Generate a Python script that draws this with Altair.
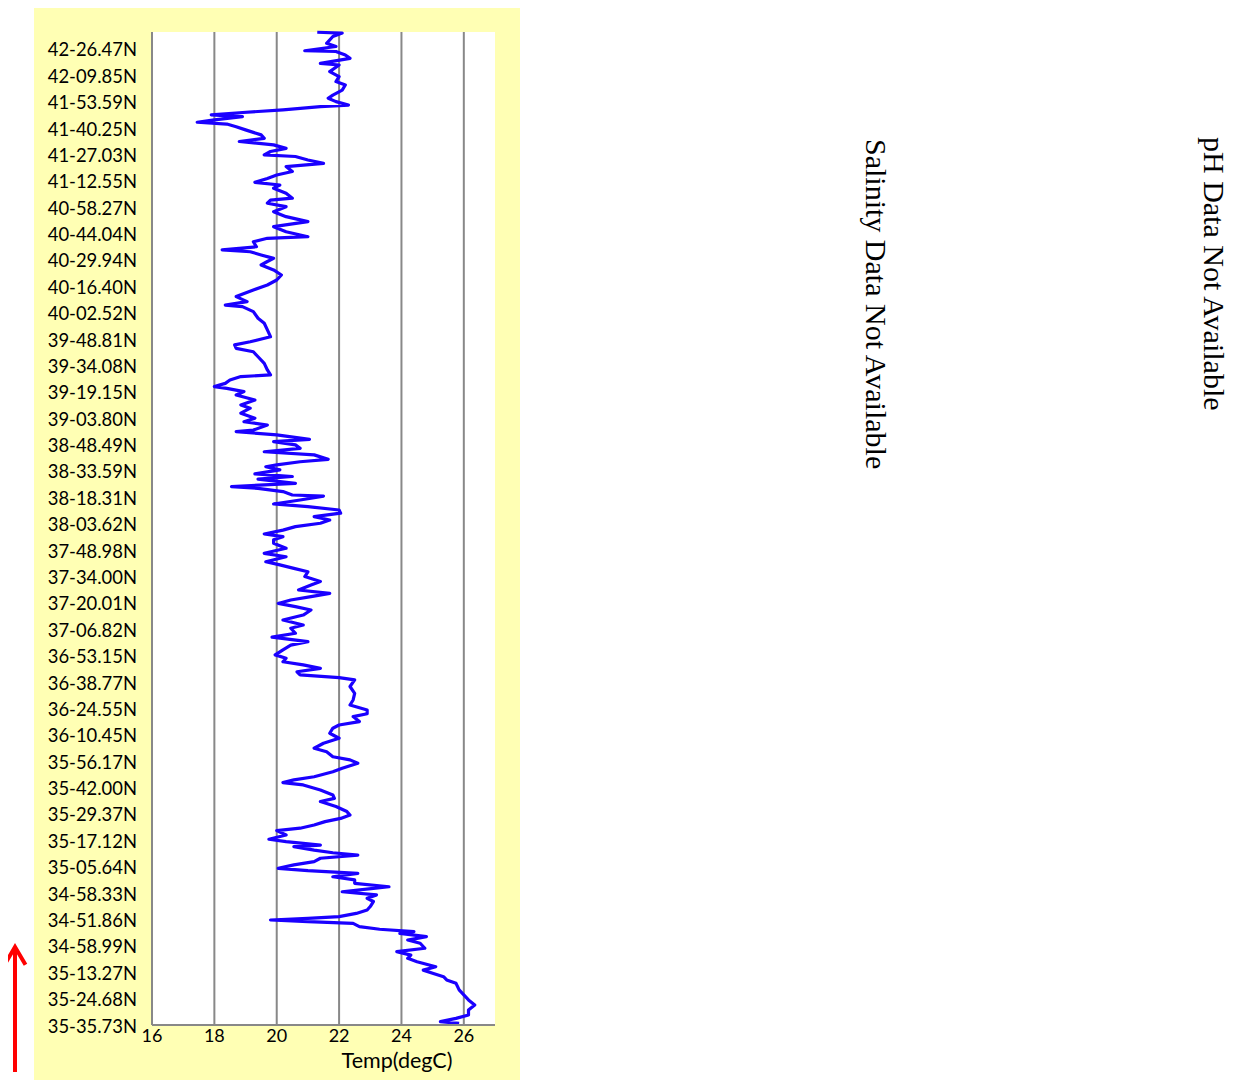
import altair as alt
import pandas as pd

# Latitude labels along the track, bottom (start) to top
lat_labels = [
    "35-35.73N", "35-24.68N", "35-13.27N", "34-58.99N", "34-51.86N",
    "34-58.33N", "35-05.64N", "35-17.12N", "35-29.37N", "35-42.00N",
    "35-56.17N", "36-10.45N", "36-24.55N", "36-38.77N", "36-53.15N",
    "37-06.82N", "37-20.01N", "37-34.00N", "37-48.98N", "38-03.62N",
    "38-18.31N", "38-33.59N", "38-48.49N", "39-03.80N", "39-19.15N",
    "39-34.08N", "39-48.81N", "40-02.52N", "40-16.40N", "40-29.94N",
    "40-44.04N", "40-58.27N", "41-12.55N", "41-27.03N", "41-40.25N",
    "41-53.59N", "42-09.85N", "42-26.47N",
]
label_step = 10
track_max = 376.4

# Position along the track (10 units per label) and temperature
track_pos = [
    376.3, 376.0, 374.7, 372.1, 370.9, 369.3, 369.0, 367.7, 366.4, 364.5,
    363.9, 361.4, 359.5, 357.6, 356.3, 354.4, 352.5, 351.3, 350.0, 348.7,
    348.1, 346.9, 345.8, 345.0, 344.3, 343.1, 342.2, 341.5, 340.5, 339.3,
    337.4, 336.1, 334.9, 333.6, 332.3, 331.1, 329.8, 329.2, 327.9, 326.6,
    325.4, 323.5, 322.2, 320.9, 319.4, 318.4, 317.2, 315.3, 313.4, 312.7,
    311.5, 310.2, 308.3, 306.4, 304.5, 302.6, 300.7, 298.8, 298.2, 296.9,
    295.0, 293.8, 293.1, 291.9, 290.6, 289.4, 288.1, 286.2, 284.3, 282.4,
    280.5, 278.6, 276.1, 274.2, 272.9, 272.3, 270.4, 267.9, 266.0, 263.5,
    260.9, 259.0, 257.8, 256.5, 255.2, 253.3, 250.8, 248.3,
    246.4, 245.8, 244.5, 243.2, 242.0, 241.3, 240.1, 238.8, 236.9, 235.0,
    233.8, 231.9, 230.0, 228.7, 227.4, 225.5, 224.9, 223.7, 222.0, 221.1,
    219.9, 218.6, 217.3, 216.1, 214.4, 213.5, 212.3, 211.6, 210.4, 208.9,
    207.9, 206.9, 205.3, 204.1, 203.4, 202.2, 200.9, 200.5, 199.0, 197.5,
    196.5, 195.2, 194.0, 192.7, 191.4, 190.2, 188.9, 187.6, 186.1, 185.1,
    183.9,
    182.6, 180.7, 178.8, 177.5, 175.6, 174.4, 173.1, 171.8, 170.0, 168.1,
    166.8, 164.9, 163.6, 162.4, 161.1, 159.8, 158.6, 157.3, 155.4, 153.5,
    151.6, 150.4, 148.5, 147.0, 145.3, 144.0, 142.2, 140.3, 139.0, 137.7,
    136.5, 135.2, 133.9, 132.7, 131.7, 130.8, 128.3, 125.7, 123.2, 121.3,
    119.4,
    118.0, 116.9, 115.0, 113.7, 112.5, 110.6, 108.7, 106.8, 104.9, 103.6,
    101.7, 100.5, 99.2, 97.3, 96.0, 94.1, 92.9, 91.9, 91.0, 89.1,
    87.2, 85.9, 84.7, 82.8, 80.9, 79.6, 78.3, 77.1, 75.8, 74.6,
    73.7, 72.0, 70.4, 69.5, 68.2, 67.6, 66.3, 65.3, 64.4, 63.2,
    61.9, 60.7, 59.4, 58.5, 57.5, 56.2, 55.0,
    53.7, 52.4, 51.8, 50.5, 49.3, 48.0, 46.8, 44.9, 43.6, 42.3,
    41.1, 40.4, 39.8, 39.2, 38.5, 37.3, 36.3, 35.4, 34.7, 33.5,
    32.2, 31.0, 29.1, 27.8, 26.5, 25.3, 24.0, 22.1, 20.8, 19.6,
    18.3, 17.1, 15.8, 13.3, 11.4, 9.5, 7.6, 5.7, 3.8, 2.5,
    1.3, 0.6,
]
temp_c = [
    21.3, 22.1, 21.8, 21.6, 21.9, 20.9, 21.9, 22.2, 22.35, 21.4,
    22.0, 21.7, 22.0, 21.9, 22.2, 22.1, 21.8, 21.65, 21.9, 22.3,
    21.4, 20.2, 18.8, 17.9, 18.9, 18.0, 17.45, 18.4, 18.7, 19.0,
    19.5, 19.6, 18.8, 19.9, 20.3, 19.8, 19.6, 20.6, 21.0, 21.5,
    20.3, 20.5, 20.0, 19.7, 19.3, 20.1, 19.9, 20.3, 20.5, 19.8,
    19.7, 20.3, 19.9, 20.3, 21.0, 19.9, 20.3, 21.0, 19.7, 19.25,
    19.35, 18.25, 19.15, 19.5, 19.9, 19.7, 19.5, 19.9, 20.15, 20.0,
    19.7, 19.25, 18.7, 19.05, 18.35, 18.9, 19.25, 19.4, 19.6, 19.7,
    19.8, 19.15, 18.65, 18.7, 19.25, 19.4, 19.6, 19.7,
    19.8, 18.85, 18.5, 18.35, 18.0, 18.4, 18.95, 18.7, 19.3, 18.85,
    19.15, 18.85, 19.3, 18.95, 19.7, 19.25, 18.7, 20.0, 21.05, 19.9,
    20.6, 20.75, 19.6, 21.2, 21.65, 20.75, 20.0, 19.65, 20.1, 19.3,
    20.5, 19.4, 20.6, 18.55, 19.4, 20.2, 20.5, 21.5, 20.75, 19.9,
    21.0, 22.0, 22.05, 21.2, 21.7, 21.4, 20.6, 20.2, 19.6, 20.2,
    19.9,
    19.9, 20.3, 19.6, 20.3, 19.65, 20.1, 20.55, 21.0, 20.9, 21.4,
    21.1, 20.7, 21.7, 21.1, 20.45, 20.05, 20.6, 21.1, 20.85, 20.2,
    20.85, 20.45, 20.6, 19.85, 21.0, 20.45, 20.2, 19.95, 20.3, 20.2,
    20.85, 21.4, 20.65, 20.75, 22.0, 22.5, 22.35, 22.5, 22.45, 22.35,
    22.9,
    22.9, 22.45, 22.65, 22.0, 21.8, 21.7, 22.0, 21.5, 21.2, 21.6,
    21.8, 22.35, 22.6, 22.1, 21.8, 21.2, 20.55, 20.2, 20.85, 21.4,
    21.8, 21.85, 21.4, 21.9, 22.25, 22.35, 22.05, 21.55, 21.2, 20.75,
    20.0, 20.3, 19.75, 20.3, 21.4, 20.55, 21.2, 21.8, 22.6, 21.4,
    21.2, 20.55, 20.05, 21.0, 22.6, 21.8, 22.5,
    22.5, 23.6, 23.1, 22.1, 23.2, 22.9, 23.1, 23.0, 22.9, 22.55,
    22.0, 21.0, 19.8, 21.0, 22.45, 22.65, 23.3, 24.4, 23.95, 24.8,
    24.2, 24.6, 24.75, 23.85, 24.3, 24.2, 24.5, 25.1, 24.7, 25.0,
    25.35, 25.45, 25.75, 25.85, 26.0, 26.15, 26.35, 26.15, 26.15, 25.75,
    25.25, 25.85,
]
temp_ticks = [16, 18, 20, 22, 24, 26]
temp_domain = [16, 27]

df = pd.DataFrame({"i": list(range(len(track_pos))), "pos": track_pos, "temp": temp_c})
grid_df = pd.DataFrame({"t": temp_ticks[1:], "y0": 0.0, "y1": track_max})
tick_df = pd.DataFrame({"t": temp_ticks, "lab": [str(v) for v in temp_ticks]})
lat_df = pd.DataFrame({"pos": [k * label_step for k in range(len(lat_labels))],
                       "lab": lat_labels})
bg_df = pd.DataFrame({"x0": [temp_domain[0]], "x1": [temp_domain[1]],
                      "y0": [0.0], "y1": [track_max]})
one = pd.DataFrame({"a": [0]})

GRAY = "#888888"
LABEL_FONT = "Lato"


def xs():
    return alt.Scale(domain=temp_domain, range=[144, 487], nice=False, zero=False)


def ys():
    return alt.Scale(domain=[0, track_max], range=[1017, 24], nice=False, zero=False)


panel = alt.Chart(one).mark_rect(color="#FFFFB4").encode(
    x=alt.value(26), x2=alt.value(512), y=alt.value(0), y2=alt.value(1072)
)

plot_bg = alt.Chart(bg_df).mark_rect(color="white").encode(
    x=alt.X("x0:Q", scale=xs(), axis=None), x2="x1:Q",
    y=alt.Y("y0:Q", scale=ys(), axis=None), y2="y1:Q",
)

grid = alt.Chart(grid_df).mark_rule(color=GRAY, strokeWidth=2).encode(
    x=alt.X("t:Q", scale=xs(), axis=None),
    y=alt.Y("y0:Q", scale=ys(), axis=None), y2="y1:Q",
)

line = alt.Chart(df).mark_line(color="#1A00FF", strokeWidth=3.2, strokeJoin="round").encode(
    x=alt.X("temp:Q", scale=xs(), axis=None),
    y=alt.Y("pos:Q", scale=ys(), axis=None),
    order="i:Q",
)

y_domain = alt.Chart(bg_df).mark_rule(color=GRAY, strokeWidth=2).encode(
    x=alt.X("x0:Q", scale=xs(), axis=None),
    y=alt.Y("y0:Q", scale=ys(), axis=None), y2="y1:Q",
)
x_domain = alt.Chart(bg_df).mark_rule(color=GRAY, strokeWidth=2).encode(
    x=alt.X("x0:Q", scale=xs(), axis=None), x2="x1:Q",
    y=alt.Y("y0:Q", scale=ys(), axis=None),
)

lat_text = alt.Chart(lat_df).mark_text(
    align="right", baseline="middle", font=LABEL_FONT, fontSize=18.4, color="black",
    dy=1.5,
).encode(
    x=alt.value(129),
    y=alt.Y("pos:Q", scale=ys(), axis=None),
    text="lab:N",
)

tick_text = alt.Chart(tick_df).mark_text(
    align="center", baseline="middle", font=LABEL_FONT, fontSize=18, color="black",
).encode(
    x=alt.X("t:Q", scale=xs(), axis=None),
    y=alt.value(1029),
    text="lab:N",
)

x_title = alt.Chart(one).mark_text(
    text="Temp(degC)", align="center", baseline="alphabetic",
    font=LABEL_FONT, fontSize=21.5, color="black",
).encode(x=alt.value(389), y=alt.value(1060))

salinity = alt.Chart(one).mark_text(
    text="Salinity Data Not Available", angle=90, align="left",
    baseline="alphabetic", font="Liberation Serif", fontSize=30, color="black",
).encode(x=alt.value(858), y=alt.value(131))

ph = alt.Chart(one).mark_text(
    text="pH Data Not Available", angle=90, align="left",
    baseline="alphabetic", font="Liberation Serif", fontSize=30, color="black",
).encode(x=alt.value(1196), y=alt.value(129))

shaft = alt.Chart(one).mark_rule(color="#FF0000", strokeWidth=4).encode(
    x=alt.value(7), y=alt.value(942), y2=alt.value(1064)
)
head = alt.Chart(one).mark_point(
    shape="M-1,1.7L0,0L1,1.7", size=441, filled=False, stroke="#FF0000",
    strokeWidth=4, opacity=1,
).encode(x=alt.value(7), y=alt.value(939))

chart = alt.layer(
    panel, plot_bg, grid, line, y_domain, x_domain,
    lat_text, tick_text, x_title, salinity, ph, shaft, head,
).properties(
    width=1224, height=1073,
    autosize=alt.AutoSizeParams(type="none"),
    padding=0, background="white",
).configure_view(stroke="transparent")

chart.save("out.html", embed_options={"renderer": "svg", "actions": False})
